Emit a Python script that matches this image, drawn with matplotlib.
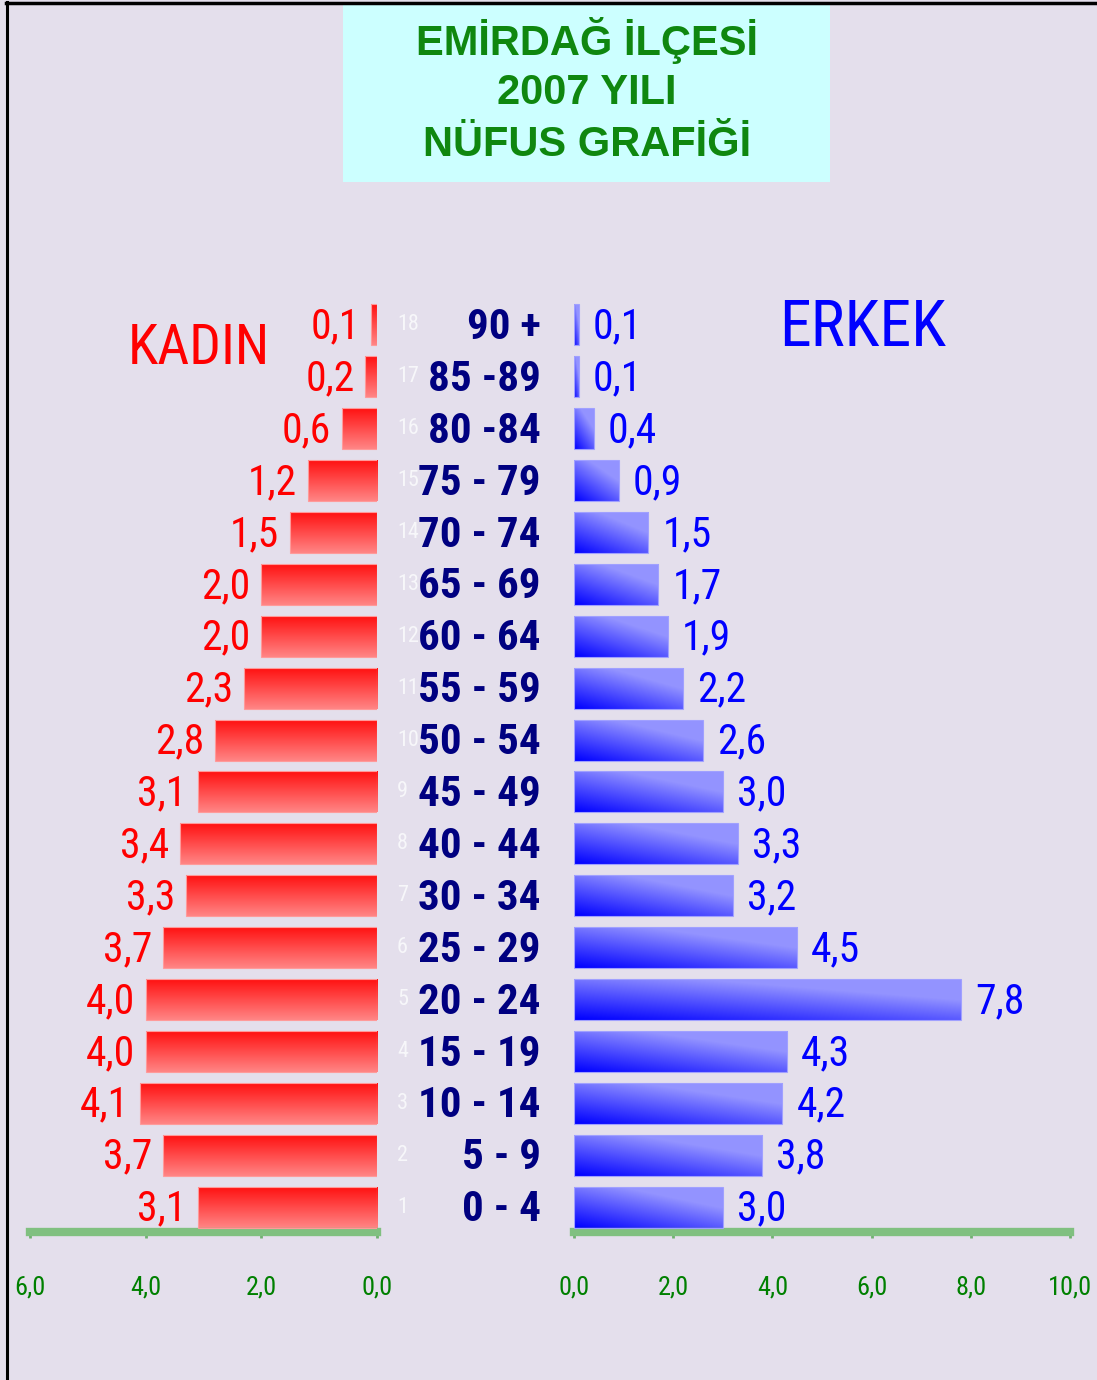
import numpy as np
import matplotlib
matplotlib.use('Agg')
import matplotlib.pyplot as plt
from matplotlib.patches import Rectangle
from matplotlib.lines import Line2D
from matplotlib.transforms import blended_transform_factory, offset_copy

# age groups from bottom (0-4) to top (90+)
ages = ["0 - 4", "5 - 9", "10 - 14", "15 - 19", "20 - 24", "25 - 29", "30 - 34",
        "40 - 44", "45 - 49", "50 - 54", "55 - 59", "60 - 64", "65 - 69",
        "70 - 74", "75 - 79", "80 -84", "85 -89", "90 +"]
sira = list(range(1, 19))
kadin = [3.1, 3.7, 4.1, 4.0, 4.0, 3.7, 3.3, 3.4, 3.1, 2.8, 2.3, 2.0, 2.0, 1.5, 1.2, 0.6, 0.2, 0.1]
erkek = [3.0, 3.8, 4.2, 4.3, 7.8, 4.5, 3.2, 3.3, 3.0, 2.6, 2.2, 1.9, 1.7, 1.5, 0.9, 0.4, 0.1, 0.1]
kadin_ticks = [0, 2, 4, 6]
erkek_ticks = [0, 2, 4, 6, 8, 10]

NARROW = ['Roboto Condensed', 'Barlow Condensed', 'DejaVu Sans']
BG = '#E4DFEC'
GREEN = '#0f870f'
W, H = 1097, 1380


def fx(px):
    return px / W


def fy(py):
    return 1 - py / H


def fmt(v):
    return f"{v:.1f}".replace('.', ',')


fig = plt.figure(figsize=(W / 100, H / 100), dpi=100, facecolor=BG)

# frame lines (top and left)
fig.add_artist(Line2D([fx(6), 1], [fy(3), fy(3)], color='black', lw=2.5, transform=fig.transFigure))
fig.add_artist(Line2D([fx(7), fx(7)], [0, fy(2)], color='black', lw=2.2, transform=fig.transFigure))

# title box
fig.add_artist(Rectangle((fx(343), fy(182)), fx(830) - fx(343), fy(5) - fy(182),
                         transform=fig.transFigure, facecolor='#CCFFFF', edgecolor='none'))
for txt, py in [("EMİRDAĞ İLÇESİ", 40), ("2007 YILI", 93), ("NÜFUS GRAFİĞİ", 145)]:
    fig.text(fx(587), fy(py), txt, ha='center', va='center', color=GREEN,
             fontsize=30, fontweight='bold', family=['Liberation Sans', 'DejaVu Sans'])

axL = fig.add_axes([fx(30), fy(1232), fx(377) - fx(30), fy(300) - fy(1232)])
axR = fig.add_axes([fx(574), fy(1232), fx(1070) - fx(574), fy(300) - fy(1232)])

y = np.arange(len(ages))
barsL = axL.barh(y, kadin, height=0.79, facecolor='none', edgecolor='#FF9A9A', lw=0.8, zorder=3)
barsR = axR.barh(y, erkek, height=0.79, facecolor='none', edgecolor='#A0A0FF', lw=0.8, zorder=3)

# red: vertical gradient, strong at top
n = 60
t = np.linspace(0, 1, n)[:, None, None]
red_top = np.array([1.0, 0.07, 0.07])
red_bot = np.array([1.0, 0.52, 0.52])
red_img = red_bot + (red_top - red_bot) * t
red_img = np.repeat(red_img, 2, axis=1)

# blue: diagonal gradient, dark at bottom-left
xn = np.linspace(0, 1, n)[None, :]
yn = np.linspace(0, 1, n)[:, None]
tb = np.clip(0.6 * xn + 0.8 * yn, 0, 1)[:, :, None]
blue_dark = np.array([0.0, 0.0, 1.0])
blue_light = np.array([0.58, 0.58, 1.0])
blue_img = blue_dark + (blue_light - blue_dark) * tb

for p in barsL:
    x0, y0, w, h = p.get_x(), p.get_y(), p.get_width(), p.get_height()
    axL.imshow(red_img, extent=[x0, x0 + w, y0, y0 + h], origin='lower',
               aspect='auto', interpolation='bilinear', zorder=2)
for p in barsR:
    x0, y0, w, h = p.get_x(), p.get_y(), p.get_width(), p.get_height()
    axR.imshow(blue_img, extent=[x0, x0 + w, y0, y0 + h], origin='lower',
               aspect='auto', interpolation='bilinear', zorder=2)

for ax, lim, ticks in [(axL, (6, 0), kadin_ticks), (axR, (0, 10), erkek_ticks)]:
    ax.set_xlim(*lim)
    ax.set_ylim(-0.48, 17.48)
    ax.set_facecolor('none')
    ax.set_yticks([])
    for s in ['top', 'right', 'left']:
        ax.spines[s].set_visible(False)
    ax.spines['bottom'].set_color('#80C080')
    ax.spines['bottom'].set_linewidth(6)
    ax.set_xticks(ticks)
    ax.set_xticklabels([fmt(v) for v in ticks], family=NARROW, fontsize=19, color='#008000')
    ax.tick_params(axis='x', colors='#70B070', length=4, width=2, pad=27)
    for lbl in ax.get_xticklabels():
        lbl.set_color('#008000')

# value labels
offL = offset_copy(axL.transData, fig=fig, x=-11, y=-2, units='dots')
offR = offset_copy(axR.transData, fig=fig, x=14, y=-2, units='dots')
for yi, v in zip(y, kadin):
    axL.text(v, yi, fmt(v), transform=offL, ha='right', va='center',
             color='#FF0000', fontsize=30, family=NARROW)
for yi, v in zip(y, erkek):
    axR.text(v, yi, fmt(v), transform=offR, ha='left', va='center',
             color='#0000FF', fontsize=30, family=NARROW)

# middle labels: row numbers and age groups
mid = blended_transform_factory(fig.transFigure, axL.transData)
for yi, s, a in zip(y, sira, ages):
    axL.text(fx(397), yi, str(s), transform=mid, ha='left', va='center',
             color='#F7F7FA', fontsize=16, family=NARROW, clip_on=False)
    axL.text(fx(541), yi - 0.05, a, transform=mid, ha='right', va='center',
             color='#000080', fontsize=31, fontweight='bold', family=NARROW, clip_on=False)

fig.text(fx(199), fy(349), "KADIN", ha='center', va='center', color='#FF0000',
         fontsize=40, family=NARROW)
fig.text(fx(863), fy(328), "ERKEK", ha='center', va='center', color='#0000FF',
         fontsize=46, family=NARROW)

fig.savefig('out.png', dpi=100, facecolor=BG)
